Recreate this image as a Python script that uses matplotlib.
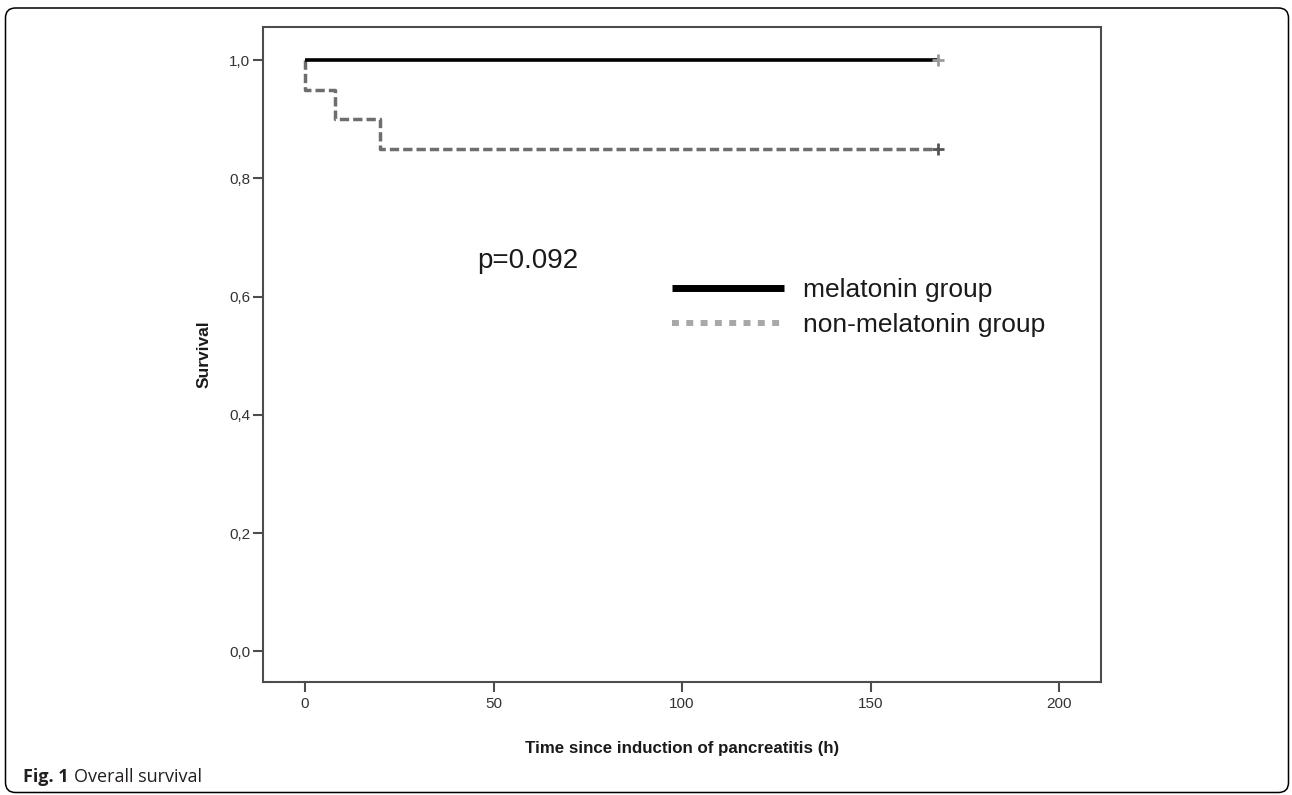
import matplotlib
matplotlib.use('Agg')
import matplotlib.pyplot as plt
from matplotlib.patches import FancyBboxPatch
from matplotlib.lines import Line2D
from matplotlib.transforms import IdentityTransform

plt.rcParams['font.family'] = ['Liberation Sans', 'DejaVu Sans']
plt.rcParams['lines.scale_dashes'] = False

# ---- data ----
groups = ['melatonin group', 'non-melatonin group']
mel_times = [0, 168]
mel_surv = [1.0, 1.0]
non_times = [0, 0, 8, 20, 168]
non_surv = [1.0, 0.95, 0.90, 0.85, 0.85]
censor_time = 168
x_ticks = [0, 50, 100, 150, 200]
x_tick_labels = ['0', '50', '100', '150', '200']
y_ticks = [0.0, 0.2, 0.4, 0.6, 0.8, 1.0]
y_tick_labels = ['0,0', '0,2', '0,4', '0,6', '0,8', '1,0']
p_text = 'p=0.092'
x_label = 'Time since induction of pancreatitis (h)'
y_label = 'Survival'
caption_bold = 'Fig. 1'
caption_text = 'Overall survival'

W, H = 1292, 795
fig = plt.figure(figsize=(W / 100, H / 100), dpi=100)
ax = fig.add_axes([263 / W, 113 / H, (1101 - 263) / W, (682 - 27) / H])

ax.plot(non_times, non_surv, drawstyle='steps-post', color='#6e6e6e', lw=2.5,
        dashes=(6.7, 2.9), dash_capstyle='butt', zorder=2)
ax.plot(mel_times, mel_surv, color='black', lw=2.6, solid_capstyle='butt', zorder=3)
ax.plot([censor_time], [mel_surv[-1]], marker='+', ms=9, mew=2, color='#9a9a9a',
        linestyle='none', zorder=4)
ax.plot([censor_time], [non_surv[-1]], marker='+', ms=9, mew=2, color='#555555',
        linestyle='none', zorder=4)

ax.set_xlim((263 - 305) / 3.77, (1101 - 305) / 3.77)
ax.set_ylim(-0.0516, 1.0558)
ax.set_xticks(x_ticks)
ax.set_xticklabels(x_tick_labels)
ax.set_yticks(y_ticks)
ax.set_yticklabels(y_tick_labels)

for s in ax.spines.values():
    s.set_color('#4d4d4d')
    s.set_linewidth(1.5)
ax.tick_params(axis='both', length=7.5, width=1.5, color='#4d4d4d',
               labelsize=11, labelcolor='#333333')
ax.tick_params(axis='x', pad=3)
ax.tick_params(axis='y', pad=1.5)

ax.set_xlabel(x_label, fontsize=12.2, fontweight='bold', color='#1a1a1a', va='center')
ax.xaxis.set_label_coords(0.5, -(749 - 682) / 655)
ax.set_ylabel(y_label, fontsize=12.5, fontweight='bold', color='#1a1a1a', va='center')
ax.yaxis.set_label_coords((204 - 263) / 838, 0.5)

ax.text(45.8, 0.649, p_text, fontsize=20, color='#1a1a1a', va='baseline', ha='left')

handles = [Line2D([], [], color='black', lw=5, solid_capstyle='butt'),
           Line2D([], [], color='#a8a8a8', lw=4.3, dashes=(5, 5.3), dash_capstyle='butt')]
ax.legend(handles, groups, loc='upper left', bbox_to_anchor=(672 / W, 1 - 278 / H),
          bbox_transform=fig.transFigure, frameon=False, fontsize=19,
          handlelength=4.24, handletextpad=0.72, labelspacing=0.42,
          borderpad=0, borderaxespad=0, labelcolor='#1a1a1a')

frame = FancyBboxPatch((5.5, 2.5), 1283, 784.5,
                       boxstyle='round,pad=0,rounding_size=10',
                       transform=IdentityTransform(), fill=False, lw=1.1, ec='black')
fig.add_artist(frame)

t1 = fig.text(23 / W, 13 / H, caption_bold, fontweight='bold', fontsize=13,
              family=['Open Sans', 'DejaVu Sans'], va='baseline', ha='left', color='#231f20')
ax.annotate(caption_text, xy=(1, 0), xycoords=t1, xytext=(3.8, 0),
            textcoords='offset points', va='bottom', ha='left', fontsize=13,
            family=['Open Sans', 'DejaVu Sans'], color='#231f20', annotation_clip=False)

fig.savefig('out.png', dpi=100)
